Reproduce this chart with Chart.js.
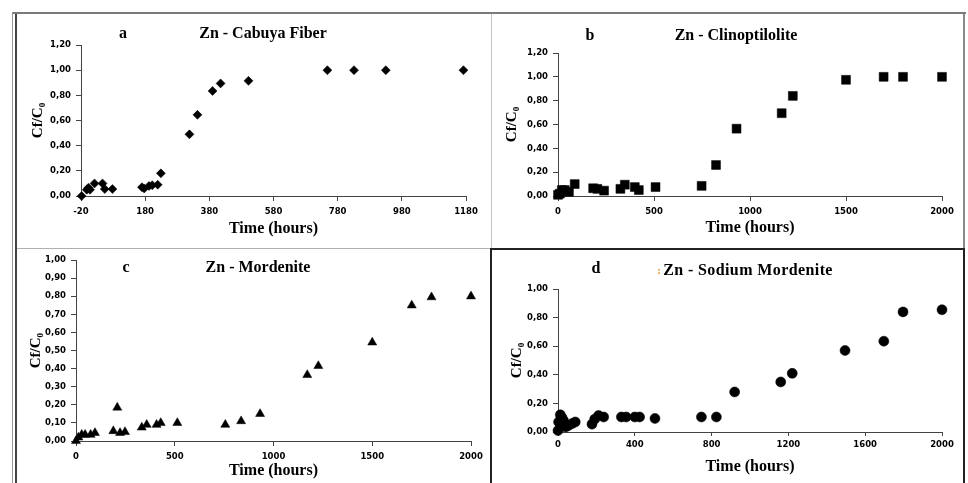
<!DOCTYPE html>
<html>
<head>
<meta charset="utf-8">
<script src="https://cdn.jsdelivr.net/npm/chart.js@4.4.1/dist/chart.umd.min.js"></script>
<style>
  html, body { margin: 0; padding: 0; background: #fff; }
  #page { position: relative; width: 968px; height: 483px; overflow: hidden; background: #fff; }
  canvas { position: absolute; }
  .ln { position: absolute; }
  .lbl {
    position: absolute; transform: translate(-50%, -50%);
    font-family: 'Liberation Serif', 'Times New Roman', serif;
    font-weight: bold; font-size: 16px; color: #000; white-space: nowrap;
  }
</style>
</head>
<body>
<div id="page">
  <!-- frame lines -->
  <div class="ln" style="left:12px;top:12px;width:954px;height:2px;background:#7a7a7a"></div>
  <div class="ln" style="left:12px;top:12px;width:1px;height:471px;background:#9a9a9a"></div>
  <div class="ln" style="left:15px;top:14px;width:2px;height:469px;background:#444"></div>
  <div class="ln" style="left:491px;top:14px;width:1px;height:234px;background:#c4c4c4"></div>
  <div class="ln" style="left:963px;top:14px;width:2px;height:234px;background:#8a8a8a"></div>
  <div class="ln" style="left:17px;top:248px;width:474px;height:1px;background:#b0b0b0"></div>
  <div class="ln" style="left:490px;top:248px;width:471px;height:240px;border:2px solid #222"></div>

  <canvas id="chartA" width="474" height="232" style="left:17px;top:15px"></canvas>
  <canvas id="chartB" width="470" height="232" style="left:493px;top:15px"></canvas>
  <canvas id="chartC" width="473" height="233" style="left:17px;top:250px"></canvas>
  <canvas id="chartD" width="470" height="232" style="left:493px;top:251px"></canvas>

  <div class="lbl" style="left:123px;top:33px">a</div>
  <div class="lbl" style="left:263px;top:33px">Zn - Cabuya Fiber</div>
  <div class="lbl" style="left:590px;top:35px">b</div>
  <div class="lbl" style="left:736px;top:35px">Zn - Clinoptilolite</div>
  <div class="lbl" style="left:126px;top:267px">c</div>
  <div class="lbl" style="left:258px;top:267px">Zn - Mordenite</div>
  <div class="lbl" style="left:596px;top:268px">d</div>
  <div class="lbl" style="left:659px;top:270px;font-size:11px;color:#e0902c">:</div>
  <div class="lbl" style="left:748px;top:270px;letter-spacing:0.4px">Zn - Sodium Mordenite</div>
</div>

<script>
// --- data (time in hours, Cf/C0) ---
const A_TIME  = [-18, -2, 3, 8, 22, 47, 54, 78, 170, 177, 192, 202, 219, 229, 318, 343, 390, 415, 502, 748, 831, 930, 1172];
const A_RATIO = [0, 0.05, 0.065, 0.05, 0.10, 0.10, 0.055, 0.055, 0.07, 0.06, 0.08, 0.085, 0.09, 0.18, 0.49, 0.645, 0.835, 0.895, 0.915, 1.0, 1.0, 1.0, 1.0];

const B_TIME  = [0, 10, 20, 35, 57, 87, 183, 205, 240, 325, 348, 400, 421, 508, 748, 823, 930, 1165, 1223, 1500, 1696, 1797, 2000];
const B_RATIO = [0.01, 0.02, 0.05, 0.05, 0.035, 0.10, 0.065, 0.06, 0.045, 0.06, 0.095, 0.075, 0.05, 0.075, 0.085, 0.26, 0.565, 0.695, 0.84, 0.975, 1.0, 1.0, 1.0];

const C_TIME  = [0, 12, 29, 46, 74, 96, 189, 209, 223, 248, 333, 358, 408, 429, 513, 756, 836, 932, 1171, 1227, 1500, 1700, 1800, 2000];
const C_RATIO = [0, 0.02, 0.035, 0.035, 0.035, 0.045, 0.055, 0.185, 0.045, 0.05, 0.075, 0.09, 0.09, 0.10, 0.10, 0.09, 0.11, 0.15, 0.365, 0.415, 0.545, 0.75, 0.795, 0.80];

const D_TIME  = [0, 3, 12, 21, 29, 40, 55, 75, 90, 177, 191, 211, 238, 330, 355, 400, 425, 505, 747, 825, 920, 1160, 1220, 1495, 1697, 1797, 2000];
const D_RATIO = [0.01, 0.07, 0.12, 0.10, 0.08, 0.035, 0.045, 0.06, 0.07, 0.055, 0.09, 0.115, 0.105, 0.105, 0.105, 0.105, 0.105, 0.095, 0.105, 0.105, 0.28, 0.35, 0.41, 0.57, 0.635, 0.84, 0.855];

// --- tick labels ---
const A_X_TICKS = [-20, 180, 380, 580, 780, 980, 1180];
const B_X_TICKS = [0, 500, 1000, 1500, 2000];
const C_X_TICKS = [0, 500, 1000, 1500, 2000];
const D_X_TICKS = [0, 400, 800, 1200, 1600, 2000];
const Y_TICKS_12 = [0, 0.2, 0.4, 0.6, 0.8, 1.0, 1.2];
const Y_TICKS_10 = [0, 0.1, 0.2, 0.3, 0.4, 0.5, 0.6, 0.7, 0.8, 0.9, 1.0];
const Y_TICKS_10B = [0, 0.2, 0.4, 0.6, 0.8, 1.0];

const TICK_FONT = { family: "'DejaVu Sans', Verdana, sans-serif", size: 8.5, weight: 'bold' };
const AXIS_FONT = { family: "'Liberation Serif', 'Times New Roman', serif", size: 16, weight: 'bold', lineHeight: 1.2 };
const YTITLE_FONT = { family: "'Liberation Serif', 'Times New Roman', serif", size: 15, weight: 'bold', lineHeight: 1.2 };
const AXIS_COLOR = '#444';

function renderPanel(id, xs, ys, marker, radius, c) {
    const canvas = document.getElementById(id);
    const last = arr => arr[arr.length - 1];
    return new Chart(canvas.getContext('2d'), {
        type: 'scatter',
        data: {
            datasets: [{
                data: xs.map((x, i) => ({ x, y: ys[i] })),
                pointStyle: marker,
                pointRadius: radius,
                pointBackgroundColor: '#000',
                pointBorderColor: '#000',
                pointBorderWidth: 0.5,
                clip: false,
            }]
        },
        options: {
            responsive: false,
            animation: false,
            layout: { padding: { left: 0, top: c.top, right: c.right, bottom: 0 } },
            plugins: { legend: { display: false }, tooltip: { enabled: false } },
            scales: {
                x: {
                    type: 'linear',
                    min: c.xTicks[0], max: last(c.xTicks),
                    afterBuildTicks: s => { s.ticks = c.xTicks.map(v => ({ value: v })); },
                    afterFit: s => { s.height = c.xh; },
                    grid: { drawOnChartArea: false, drawTicks: true, tickLength: c.xTickLen, color: AXIS_COLOR },
                    border: { color: AXIS_COLOR, width: 1 },
                    ticks: { padding: c.xTickPad, font: TICK_FONT, color: '#000', maxRotation: 0, autoSkip: false, callback: v => String(v) },
                    title: { display: true, text: 'Time (hours)', font: AXIS_FONT, color: '#000', padding: { top: 0, bottom: c.xtPad } }
                },
                y: {
                    type: 'linear',
                    min: 0, max: last(c.yTicks),
                    afterBuildTicks: s => { s.ticks = c.yTicks.map(v => ({ value: v })); },
                    afterFit: s => { s.width = c.yw; },
                    grid: { drawOnChartArea: false, drawTicks: true, tickLength: 5, color: AXIS_COLOR },
                    border: { color: AXIS_COLOR, width: 1 },
                    ticks: { padding: 5, font: TICK_FONT, color: '#000', callback: v => v.toFixed(2).replace('.', ',') },
                    title: { display: true, text: 'Cf/C\u2080', font: YTITLE_FONT, color: '#000', padding: { top: c.ytPad, bottom: 0 } }
                }
            }
        }
    });
}

renderPanel('chartA', A_TIME, A_RATIO, 'rectRot', 4.5,
    { xTicks: A_X_TICKS, yTicks: Y_TICKS_12, top: 30, right: 25, yw: 64, xh: 51, xTickLen: 5, xTickPad: 6, xtPad: 8.4, ytPad: 12 });
renderPanel('chartB', B_TIME, B_RATIO, 'rect', 6.3,
    { xTicks: B_X_TICKS, yTicks: Y_TICKS_12, top: 38, right: 21, yw: 65, xh: 51, xTickLen: 5, xTickPad: 6, xtPad: 9.4, ytPad: 10 });
renderPanel('chartC', C_TIME, C_RATIO, 'triangle', 5.2,
    { xTicks: C_X_TICKS, yTicks: Y_TICKS_10, top: 6, right: 19, yw: 59, xh: 42, xTickLen: 5, xTickPad: 6, xtPad: 2.4, ytPad: 10 });
renderPanel('chartD', D_TIME, D_RATIO, 'circle', 5,
    { xTicks: D_X_TICKS, yTicks: Y_TICKS_10B, top: 38, right: 21, yw: 65, xh: 51, xTickLen: 4, xTickPad: 4, xtPad: 6.4, ytPad: 15 });
</script>
</body>
</html>
